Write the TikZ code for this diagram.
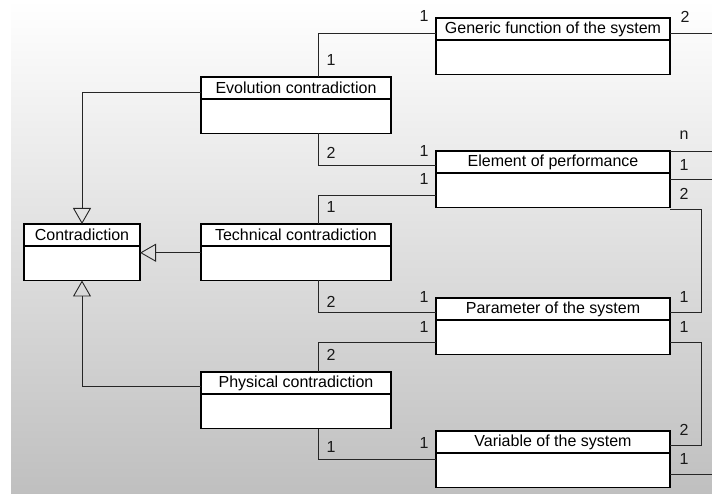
\documentclass[tikz,border=0pt]{standalone}
\usepackage{fontspec}
\setmainfont{Liberation Sans}
\usetikzlibrary{arrows.meta,positioning,calc}

\begin{document}
\begin{tikzpicture}[x=1pt,y=-1pt,
    font=\fontsize{16}{18}\selectfont,
    head/.style={draw,line width=1.4pt,fill=white,minimum width=#1,minimum height=22pt,inner sep=0pt,outer sep=0pt,anchor=north},
    body/.style={draw,line width=1.4pt,fill=white,minimum width=#1,minimum height=34.5pt,inner sep=0pt,outer sep=0pt},
    assoc/.style={draw=black!85,line width=0.9pt},
    inherit/.style={draw=black!85,line width=0.9pt,-{Triangle[open,length=16pt,width=18pt]}},
    mult/.style={inner sep=0pt,text=black!90}]
    % Background
    \useasboundingbox (0,0) rectangle (712,494);
    \fill[white] (0,0) rectangle (712,494);
    \shade[top color=white,bottom color=black!25] (11,0) rectangle (712,494);

    % Column for the connectors
    \coordinate (lc) at (318,0);

    % Classes
    \node[head=234pt] (gen) at (553,18) {Generic function of the system};
    \node[body=234pt,below=0pt of gen] (genb) {};
    \node[head=190pt] (evo) at (296,77) {Evolution contradiction};
    \node[body=190pt,below=0pt of evo] (evob) {};
    \node[head=116pt] (con) at (82,224) {Contradiction};
    \node[body=116pt,below=0pt of con] (conb) {};
    \node[head=190pt] (tec) at (296,224) {Technical contradiction};
    \node[body=190pt,below=0pt of tec] (tecb) {};
    \node[head=234pt] (ele) at (553,151) {Element of performance};
    \node[body=234pt,below=0pt of ele] (eleb) {};
    \node[head=234pt] (par) at (553,298) {Parameter of the system};
    \node[body=234pt,below=0pt of par] (parb) {};
    \node[head=190pt] (phy) at (296,372) {Physical contradiction};
    \node[body=190pt,below=0pt of phy] (phyb) {};
    \node[head=234pt] (var) at (553,431) {Variable of the system};
    \node[body=234pt,below=0pt of var] (varb) {};

    % Generalizations
    \draw[inherit] ([yshift=-4pt]evo.west) -| (con.north);
    \draw[inherit] ([yshift=10.5pt]tecb.west) -- ([yshift=10.5pt]conb.east);
    \draw[inherit] ([yshift=-3pt]phy.west) -| (conb.south);

    % Associations
    \draw[assoc] (evo.north -| lc) |- ([yshift=-4pt]gen.west);
    \draw[assoc] (evob.south -| lc) |- ([yshift=-3pt]ele.west);
    \draw[assoc] ([yshift=-5pt]eleb.west) -| (tec.north -| lc);
    \draw[assoc] (tecb.south -| lc) |- ([yshift=-3.5pt]par.west);
    \draw[assoc] ([yshift=-5pt]parb.west) -| (phy.north -| lc);
    \draw[assoc] (phyb.south -| lc) |- ([yshift=11pt]varb.west);

    \draw[assoc] ([yshift=-4pt]gen.east) -- ++(45,0) coordinate (out1);
    \draw[assoc] (ele.north east) -- ++(45,0) coordinate (out2);
    \draw[assoc] ([yshift=-6pt]eleb.north east) -- ++(45,0) coordinate (out3);
    \draw[assoc] ([yshift=-2pt]eleb.south east) -- ++(31,0) |- ([yshift=-3.5pt]par.east);
    \draw[assoc] ([yshift=-5pt]parb.east) -- ++(31,0) |- ([yshift=-3.5pt]var.east);
    \draw[assoc] ([yshift=-4pt]varb.east) -- ++(45,0) coordinate (out4);

    % Multiplicities
    \node[mult] (m1) at (331,60) {1};
    \node[mult] (m2) at (424,16) {1};
    \node[mult] (m3) at (685,17) {2};
    \node[mult] (m4) at (331,153) {2};
    \node[mult] (m5) at (424,151) {1};
    \node[mult] (m6) at (424,179) {1};
    \node[mult] (m7) at (331,207) {1};
    \node[mult] (m8) at (331,302) {2};
    \node[mult] (m9) at (424,297) {1};
    \node[mult] (m10) at (424,327) {1};
    \node[mult] (m11) at (331,355) {2};
    \node[mult] (m12) at (331,447) {1};
    \node[mult] (m13) at (424,443) {1};
    \node[mult] (m14) at (684,135) {n};
    \node[mult] (m15) at (684,165) {1};
    \node[mult] (m16) at (684,194) {2};
    \node[mult] (m17) at (684,297) {1};
    \node[mult] (m18) at (684,327) {1};
    \node[mult] (m19) at (684,430) {2};
    \node[mult] (m20) at (684,459) {1};
\end{tikzpicture}
\end{document}
